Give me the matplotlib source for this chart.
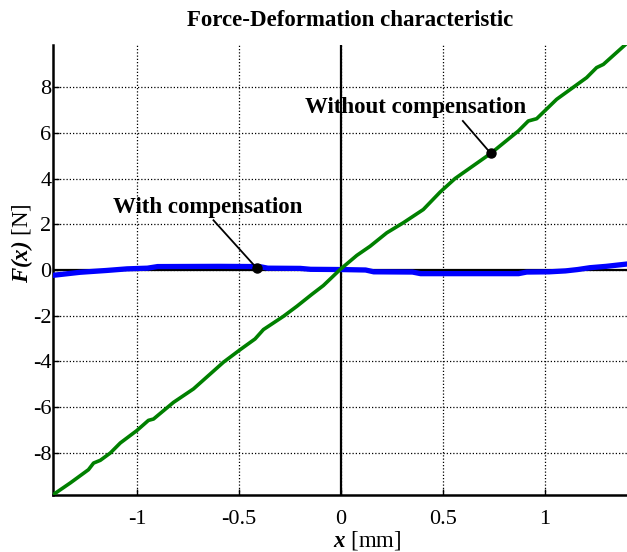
import numpy as np
import matplotlib
matplotlib.use('Agg')
import matplotlib.pyplot as plt

plt.rcParams['font.family'] = ['Liberation Serif', 'DejaVu Serif']
plt.rcParams['axes.unicode_minus'] = False
plt.rcParams['mathtext.fontset'] = 'custom'
plt.rcParams['mathtext.rm'] = 'Liberation Serif'
plt.rcParams['mathtext.bfit'] = 'Liberation Serif:italic:bold'
plt.rcParams['mathtext.it'] = 'Liberation Serif:italic'
plt.rcParams['mathtext.bf'] = 'Liberation Serif:bold'

# curva sem compensacao (verde)
x_sem = [-1.413, -1.328, -1.239, -1.214, -1.181, -1.132, -1.083, -1.001, -0.945, -0.92,
         -0.822, -0.724, -0.577, -0.495, -0.422, -0.381, -0.283, -0.217, -0.144, -0.087,
         -0.005, 0.077, 0.142, 0.224, 0.305, 0.403, 0.485, 0.559, 0.734, 0.869,
         0.918, 0.959, 1.057, 1.204, 1.253, 1.286, 1.392]
f_sem = [-9.85, -9.33, -8.75, -8.46, -8.34, -8.02, -7.58, -7.03, -6.59, -6.53,
         -5.80, -5.21, -4.04, -3.49, -3.02, -2.61, -2.03, -1.59, -1.07, -0.68,
         0.02, 0.64, 1.04, 1.63, 2.07, 2.65, 3.41, 4.01, 5.11, 6.09,
         6.53, 6.63, 7.48, 8.43, 8.87, 9.01, 9.86]

# curva com compensacao (azul)
x_com = [-1.41, -1.35, -1.28, -1.15, -1.05, -0.95, -0.90, -0.60, -0.40, -0.36, -0.20,
         -0.15, 0.0, 0.12, 0.16, 0.35, 0.39, 0.87, 0.91, 1.02, 1.10, 1.16, 1.22, 1.30, 1.40]
f_com = [-0.23, -0.17, -0.10, -0.02, 0.05, 0.08, 0.15, 0.16, 0.15, 0.08, 0.07,
         0.03, 0.02, 0.0, -0.08, -0.09, -0.16, -0.16, -0.09, -0.08, -0.04, 0.02, 0.10, 0.16, 0.26]

xticks = [-1, -0.5, 0, 0.5, 1]
xticklabels = ['-1', '-0.5', '0', '0.5', '1']
yticks = [-8, -6, -4, -2, 0, 2, 4, 6, 8]

# pontos marcados
ponto_sem = (0.734, 5.11)
ponto_com = (-0.413, 0.07)

fig = plt.figure(figsize=(6.27, 5.52), dpi=100)
ax = fig.add_axes([53/627, 1 - 495/552, 1 - 53/627, (495 - 45)/552])

ax.grid(True, color='black', linestyle=(0, (1, 1.6)), linewidth=0.9)
ax.axvline(0, color='black', lw=1.6, zorder=2)
ax.axhline(0, color='black', lw=1.6, zorder=2)

ax.plot(x_com, f_com, color='#0000ff', lw=3.8, zorder=3)
ax.plot(x_sem, f_sem, color='#008000', lw=2.6, zorder=4)

# anotacoes
ax.plot([0.597, ponto_sem[0]], [6.53, ponto_sem[1]], color='black', lw=1.3, zorder=5)
ax.plot(*ponto_sem, 'o', color='black', ms=6.5, zorder=6)
ax.text(0.365, 7.13, 'Without compensation', fontsize=16.5, fontweight='bold',
        ha='center', va='center', zorder=6)

ax.plot([-0.626, ponto_com[0]], [2.18, ponto_com[1]], color='black', lw=1.3, zorder=5)
ax.plot(*ponto_com, 'o', color='black', ms=6.5, zorder=6)
ax.text(-0.652, 2.74, 'With compensation', fontsize=16.5, fontweight='bold',
        ha='center', va='center', zorder=6)

ax.set_xlim(-1.413, 1.402)
ax.set_ylim(-9.86, 9.86)
ax.set_xticks(xticks)
ax.set_xticklabels(xticklabels)
ax.set_yticks(yticks)
ax.tick_params(axis='both', direction='in', length=4, width=1, labelsize=16)
ax.tick_params(axis='x', pad=11)
ax.tick_params(axis='y', pad=1)
for s in ['top', 'right']:
    ax.spines[s].set_visible(False)
for s in ['left', 'bottom']:
    ax.spines[s].set_linewidth(1.8)

fig.text(350/627, 1 - 20/552, 'Force-Deformation characteristic', fontsize=16.5,
         fontweight='bold', ha='center', va='center')
fig.text(367/627, 1 - 541/552, r'$\mathbfit{x}$ [mm]', fontsize=16.5, ha='center', va='center')
fig.text(22/627, 1 - 243/552, r'$\mathbfit{F(x)}$ [N]', fontsize=16.5, ha='center',
         va='center', rotation=90)

fig.savefig('out.png', dpi=100)
